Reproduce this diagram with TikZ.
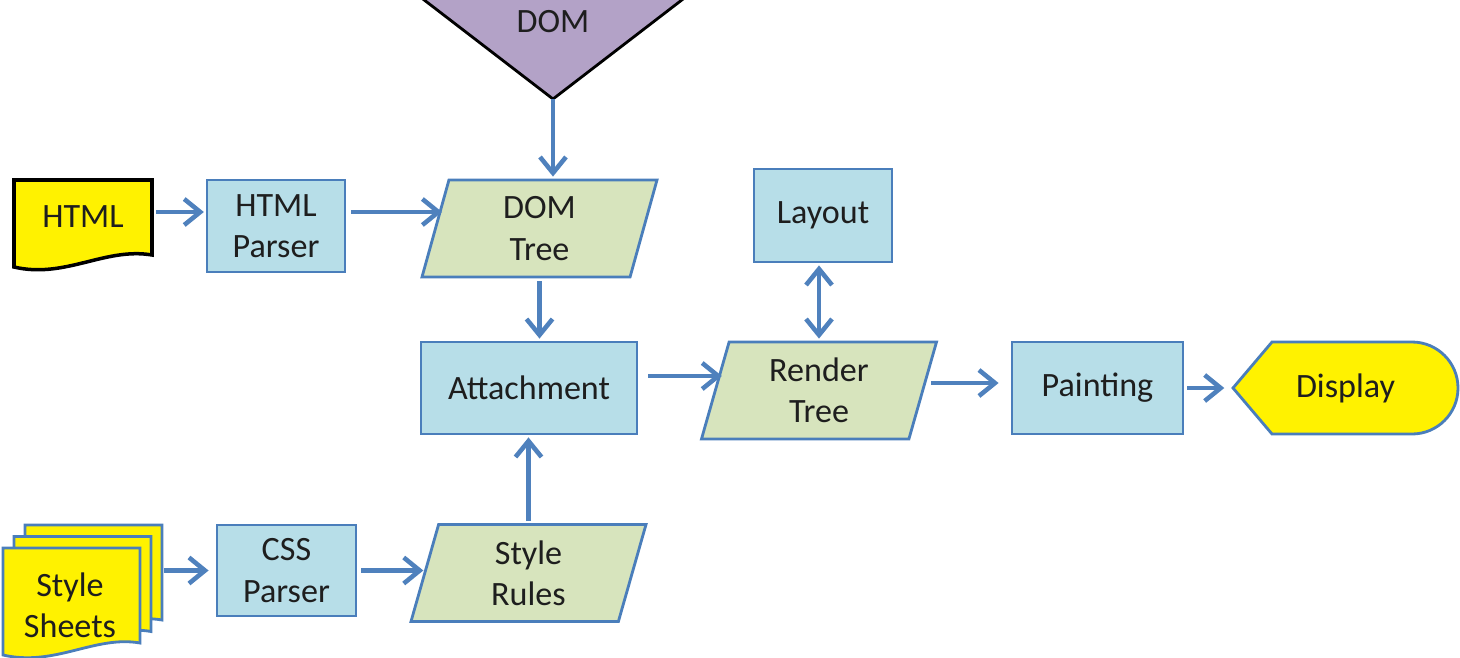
\documentclass[tikz,border=0pt]{standalone}
\usepackage{fontspec}
\setmainfont{Carlito}
\usetikzlibrary{shapes.geometric, arrows.meta}

\definecolor{boxblue}{HTML}{B7DEE8}
\definecolor{treegreen}{HTML}{D7E4BD}
\definecolor{dompurple}{HTML}{B3A2C7}
\definecolor{edgeblue}{HTML}{4A7EBB}
\definecolor{arrowblue}{HTML}{4F81BD}
\definecolor{inkgray}{HTML}{1E1E1E}

\tikzset{
    >={Straight Barb[length=1.6mm, width=2.6mm]},
    procbox/.style={draw=edgeblue, fill=boxblue, line width=0.8pt, align=center, inner sep=0pt},
    para/.style={trapezium, trapezium left angle=67, trapezium right angle=113,
        trapezium stretches body, draw=edgeblue, fill=treegreen, line width=0.8pt,
        align=center, inner sep=0pt, minimum width=2.35cm, minimum height=0.97cm},
    arr/.style={draw=arrowblue, line width=1.3pt, ->},
}

\begin{document}
\begin{tikzpicture}[font=\fontsize{9.7}{11.7}\selectfont, text=inkgray]
    \useasboundingbox (0,0) rectangle (14.6,6.57);
    \clip (0,0) rectangle (14.6,6.57);

    % sources
    \filldraw[fill=dompurple, draw=black, line width=0.8pt]
        (4.19,6.61) -- (6.87,6.61) -- (5.53,5.58) -- cycle;
    \filldraw[fill=yellow, draw=black, line width=1pt]
        (0.14,4.77) -- (1.52,4.77) -- (1.52,4.02)
        .. controls (1.05,4.10) and (0.65,3.78) .. (0.14,3.90) -- cycle;
    \foreach \d in {2,1,0}
        \filldraw[fill=yellow, draw=edgeblue, line width=0.8pt, shift={(\d*0.11,\d*0.115)}]
            (0.03,1.09) -- (1.40,1.09) -- (1.40,0.14)
            .. controls (0.95,0.22) and (0.55,-0.10) .. (0.03,0.02) -- cycle;
    \filldraw[fill=yellow, draw=edgeblue, line width=0.8pt]
        (12.33,2.69) -- (12.72,3.15) -- (14.12,3.15)
        arc[start angle=90, end angle=-90, radius=0.46] -- (12.72,2.23) -- cycle;

    \coordinate (domtip) at (5.53,5.58);
    \node at (5.53,6.35)   (dom)     {DOM};
    \node at (0.83,4.40)   (html)    [minimum width=1.38cm, inner sep=0pt] {HTML};
    \node at (0.70,0.52)   (sheets)  [minimum width=1.86cm, inner sep=0pt, align=center] {Style\\Sheets};
    \node at (13.455,2.69) (display) [minimum width=2.25cm, inner sep=0pt] {Display};

    % processes and data
    \node at (2.76,4.31)   (htmlp)      [procbox, minimum width=1.38cm, minimum height=0.92cm] {HTML\\Parser};
    \node at (2.865,0.865) (cssp)       [procbox, minimum width=1.39cm, minimum height=0.91cm] {CSS\\Parser};
    \node at (5.29,2.69)   (attach)     [procbox, minimum width=2.16cm, minimum height=0.92cm] {Attachment};
    \node at (8.23,4.415)  (layout)     [procbox, minimum width=1.38cm, minimum height=0.93cm] {Layout};
    \node at (10.975,2.69) (painting)   [procbox, minimum width=1.71cm, minimum height=0.92cm] {Painting};
    \node at (5.395,4.285) (domtree)    [para] {DOM\\Tree};
    \node at (5.285,0.84)  (stylerules) [para] {Style\\Rules};
    \node at (8.19,2.665)  (rendertree) [para] {Render\\Tree};

    \draw[arr, shorten <=1pt, shorten >=0.5pt] ([yshift=0.5mm]html.east) -- ([yshift=0.5mm]html.east -| htmlp.west);
    \draw[arr, shorten <=0.5mm, shorten >=-0.8mm] ([yshift=1.4mm]htmlp.east) -- ([yshift=1.4mm]htmlp.east -| domtree.west);
    \draw[arr, shorten >=0.2mm] (domtip) -- (domtip |- domtree.north);
    \draw[arr, shorten <=0.3mm, shorten >=0.2mm] (domtree.south) -- (domtree.south |- attach.north);
    \draw[arr, shorten <=0.2mm, shorten >=0.2mm] (stylerules.north) -- (stylerules.north |- attach.south);
    \draw[arr, shorten >=0.7mm] (sheets.east |- cssp.west) -- (cssp.west);
    \draw[arr, shorten <=0.4mm] (cssp.east) -- (cssp.east -| stylerules.west);
    \draw[arr, shorten <=1mm, shorten >=-0.8mm] ([yshift=1.2mm]attach.east) -- ([yshift=1.2mm]attach.east -| rendertree.west);
    \draw[arr, shorten <=0.7mm, shorten >=1.2mm] ([yshift=0.5mm]painting.west -| rendertree.east) -- ([yshift=0.5mm]painting.west);
    \draw[arr, shorten <=0.3mm, shorten >=0.8mm] (painting.east) -- (display.west);
    \draw[arr, <->, shorten <=0.2mm, shorten >=0.2mm] (rendertree.north) -- (rendertree.north |- layout.south);
\end{tikzpicture}
\end{document}
